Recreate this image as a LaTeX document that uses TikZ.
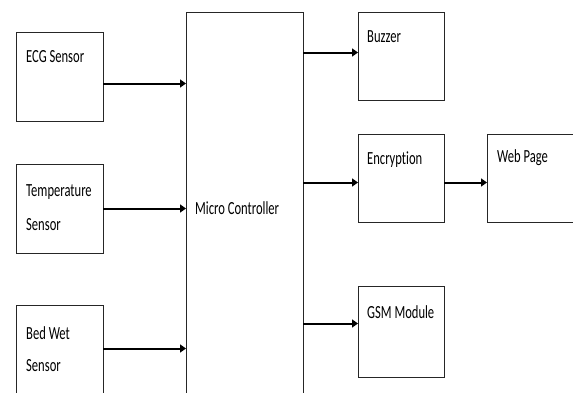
\documentclass[tikz,border=0pt]{standalone}
\usepackage{fontspec}
\setmainfont[Ligatures={NoCommon,NoRare}]{Carlito}
\usetikzlibrary{calc,arrows.meta}
\newcommand{\dlbl}[1]{\scalebox{0.68}[1]{\fontsize{18.5}{18.5}\selectfont #1}}
\tikzset{
  blk/.style={draw=black!85, line width=0.9pt, anchor=north west, inner sep=0pt, outer sep=0pt},
  txt/.style={anchor=west, inner sep=0pt, text=black},
  arr/.style={line width=2pt, -{Triangle[length=6pt,width=8pt]}}
}
\begin{document}
\begin{tikzpicture}[x=1pt,y=-1pt]
\useasboundingbox (0,0) rectangle (573,392);
\clip (0,0) rectangle (573,392);
% left boxes
\node[blk, minimum width=87pt, minimum height=89pt] (ecg) at (16,32) {};
\node[blk, minimum width=87pt, minimum height=89pt] (temp) at (16,164) {};
\node[blk, minimum width=87pt, minimum height=88pt] (bed) at (16,305) {};
% micro controller
\node[blk, minimum width=117pt, minimum height=400pt] (mc) at (186,12) {};
% right boxes
\node[blk, minimum width=86pt, minimum height=88pt] (buz) at (358,12) {};
\node[blk, minimum width=86pt, minimum height=88pt] (enc) at (358,134) {};
\node[blk, minimum width=86pt, minimum height=88pt] (web) at (487,134) {};
\node[blk, minimum width=86pt, minimum height=91pt] (gsm) at (358,286) {};
% texts
\node[txt] (ecgt) at (26,57) {\dlbl{ECG Sensor}};
\node[txt] (tempt1) at (26,192) {\dlbl{Temperature}};
\node[txt] (tempt2) at (26,225) {\dlbl{Sensor}};
\node[txt] (bedt1) at (26,333) {\dlbl{Bed Wet}};
\node[txt] (bedt2) at (26,366) {\dlbl{Sensor}};
\node[txt] (mct) at (195,208) {\dlbl{Micro Controller}};
\node[txt] (buzt) at (367,37) {\dlbl{Buzzer}};
\node[txt] (enct) at (367,160) {\dlbl{Encryption}};
\node[txt] (webt) at (497,158) {\dlbl{Web Page}};
\node[txt] (gsmt) at (367,312) {\dlbl{GSM Module}};
% arrows in
\coordinate (a1) at ($(ecg.east)+(0,7)$);
\draw[arr] (a1) -- (a1 -| mc.west);
\draw[arr] (temp.east) -- (temp.east -| mc.west);
\coordinate (a3) at ($(bed.north east)+(0,43.5)$);
\draw[arr] (a3) -- (a3 -| mc.west);
% arrows out
\coordinate (b1) at ($(buz.west)+(0,-3.5)$);
\draw[arr] (b1 -| mc.east) -- (b1);
\coordinate (b2) at ($(enc.west)+(0,4.5)$);
\draw[arr] (b2 -| mc.east) -- (b2);
\coordinate (b3) at ($(gsm.west)+(0,-8)$);
\draw[arr] (b3 -| mc.east) -- (b3);
\draw[arr] (b2 -| enc.east) -- (b2 -| web.west);
\end{tikzpicture}
\end{document}
